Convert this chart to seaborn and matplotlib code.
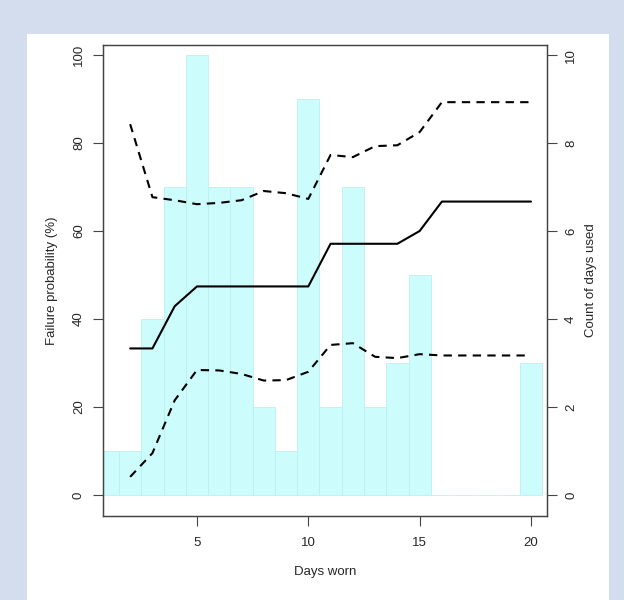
import matplotlib
matplotlib.use("Agg")
import matplotlib.pyplot as plt
import seaborn as sns
import pandas as pd
from matplotlib.patches import Rectangle

# data
days = list(range(1, 21))
counts = [1, 1, 4, 7, 10, 7, 7, 2, 1, 9, 2, 7, 2, 3, 5, 0, 0, 0, 0, 3]

curve_days = list(range(2, 21))
estimate = [33.3, 33.3, 42.9, 47.4, 47.4, 47.4, 47.4, 47.4, 47.4,
            57.1, 57.1, 57.1, 57.1, 60.0, 66.7, 66.7, 66.7, 66.7, 66.7]
upper = [84.3, 67.7, 67.0, 66.1, 66.4, 67.0, 69.1, 68.6, 67.3,
         77.3, 76.8, 79.3, 79.5, 82.5, 89.3, 89.3, 89.3, 89.3, 89.3]
lower = [4.1, 9.5, 21.5, 28.4, 28.3, 27.5, 26.0, 26.1, 28.0,
         34.1, 34.5, 31.4, 31.1, 32.0, 31.7, 31.7, 31.7, 31.7, 31.7]

bars = pd.DataFrame({"day": days, "count": counts})
curves = pd.DataFrame({"day": curve_days, "est": estimate, "up": upper, "lo": lower})

sns.set_style("white")
plt.rcParams["font.family"] = ["Liberation Sans", "DejaVu Sans"]

fig = plt.figure(figsize=(6.24, 6.0), dpi=100)
fig.patch.set_facecolor("#d4ddee")
fig.patches.append(Rectangle((27 / 624, 0), 582 / 624, 566 / 600,
                             transform=fig.transFigure, facecolor="white",
                             edgecolor="none", zorder=-10))

ax = fig.add_axes([103 / 624, 84 / 600, 444 / 624, 471 / 600])
ax2 = ax.twinx()

# histogram of days used (right axis)
sns.histplot(data=bars, x="day", weights="count", discrete=True, ax=ax2,
             color="#ccfcfc", edgecolor="#bdefef", linewidth=0.6, alpha=1)

# failure probability and bounds (left axis)
sns.lineplot(data=curves, x="day", y="est", ax=ax, color="black", lw=1.5)
sns.lineplot(data=curves, x="day", y="up", ax=ax, color="black", lw=1.5,
             dashes=False, linestyle=(0, (4, 3)))
sns.lineplot(data=curves, x="day", y="lo", ax=ax, color="black", lw=1.5,
             dashes=False, linestyle=(0, (4, 3)))

ax2.set_zorder(1)
ax.set_zorder(2)
ax.patch.set_visible(False)
ax2.patch.set_visible(False)

ax.set_xlim(0.78, 20.72)
ax.set_ylim(-4.8, 102.3)
ax2.set_ylim(-0.48, 10.23)

ax.set_xticks([5, 10, 15, 20])
ax.set_yticks([0, 20, 40, 60, 80, 100])
ax2.set_yticks([0, 2, 4, 6, 8, 10])

for a in (ax, ax2):
    for s in a.spines.values():
        s.set_color("#444444")
        s.set_linewidth(0.9)
    a.tick_params(direction="out", length=7, width=0.8, color="#444444",
                  labelsize=9.5, pad=6)

ax.tick_params(axis="y", left=True, labelrotation=90)
for lab in ax.get_yticklabels():
    lab.set_va("center")
ax2.tick_params(axis="y", right=True, labelright=True, labelrotation=90)
for lab in ax2.get_yticklabels():
    lab.set_va("center")
ax.tick_params(axis="x", bottom=True, pad=8)

ax.set_xlabel("Days worn", fontsize=9.5, labelpad=12)
ax.set_ylabel("Failure probability (%)", fontsize=9.5, labelpad=11)
ax2.set_ylabel("Count of days used", fontsize=9.5, labelpad=6)

fig.savefig("out.png", dpi=100)
